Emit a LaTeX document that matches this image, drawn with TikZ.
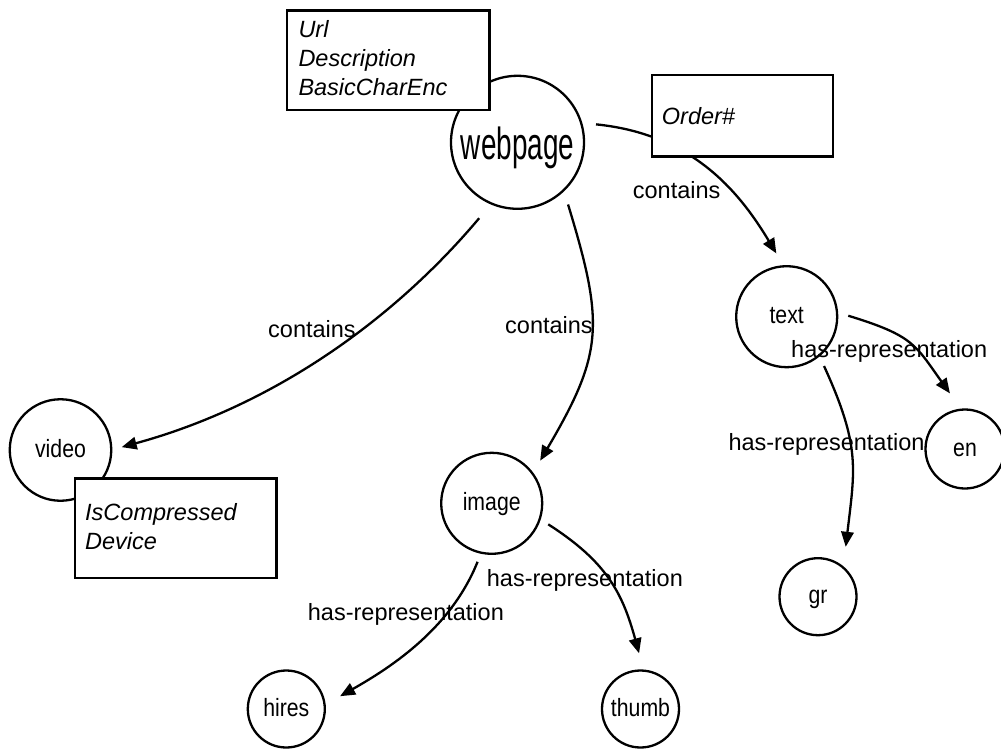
\documentclass[tikz,border=0pt]{standalone}
\usepackage{fontspec}
\setmainfont{Liberation Sans}
\usepackage{graphicx}
\usetikzlibrary{arrows.meta}

% concept names are set narrow so that they fit their circles
\newcommand{\narrowname}[1]{\scalebox{0.85}[1]{#1}}

\begin{document}
\begin{tikzpicture}[x=1pt,y=-1pt,
  concept/.style={circle,draw,line width=2.3pt,inner sep=0pt,outer sep=0pt,
    text height=17pt,text depth=3pt,font=\fontsize{25}{30}\selectfont},
  attrbox/.style={rectangle,draw,fill=white,line width=2.3pt,inner sep=0pt,
    outer sep=0pt,anchor=north west},
  attrtext/.style={anchor=base west,inner sep=0pt,
    font=\fontsize{23.5}{28}\selectfont\itshape},
  edgelabel/.style={anchor=base west,inner sep=0pt,
    font=\fontsize{23.5}{28}\selectfont},
  rel/.style={-{Triangle[length=15pt,width=12.5pt]},line width=2.3pt}
]
\useasboundingbox (0,0) rectangle (1001,749);

% concepts
\node[concept,minimum size=133pt,font=\fontsize{45}{50}\selectfont,
      text height=35pt,text depth=1pt]
  (webpage) at (517.5,142.3) {\scalebox{0.62}[1]{webpage}};
\node[concept,minimum size=101pt]   (text)  at (786.7,316.7) {\narrowname{text}};
\node[concept,minimum size=101.5pt] (video) at (60.5,450)    {\narrowname{video}};
\node[concept,minimum size=101pt]   (image) at (491.7,503.3) {\narrowname{image}};
\node[concept,minimum size=77pt]    (hires) at (286.3,709)   {\narrowname{hires}};
\node[concept,minimum size=77pt]    (thumb) at (640.5,709)   {\narrowname{thumb}};
\node[concept,minimum size=79pt]    (en)    at (965,449)     {\narrowname{en}};
\node[concept,minimum size=77pt]    (gr)    at (818,596.7)   {\narrowname{gr}};

% relations
\draw[rel,shorten <=19.2pt,shorten >=10.8pt]
  (webpage.247) .. controls +(-96.6,114.8) and +(164.1,-44.9) .. (video.0);
\draw[rel,shorten <=15pt,shorten >=15pt]
  (webpage.314) .. controls +(40.7,133.8) and +(71,-120.7) .. (image.36);
\draw[rel,shorten <=15pt,shorten >=15pt]
  (webpage.17) .. controls +(109.5,11) and +(-46.3,-77.1) .. (text.93);
\draw[rel,shorten <=11.8pt,shorten >=20pt]
  (text.5) .. controls +(76.6,23.4) and +(-46.5,-65.1) .. (en.95);
\draw[rel,shorten <=11.7pt,shorten >=21pt]
  (text.310) .. controls +(41.5,90.9) and +(11.7,-99.3) .. (gr.49);
\draw[rel,shorten <=9.8pt,shorten >=17.8pt]
  (image.258) .. controls +(-29.7,74.2) and +(69.6,-39.4) .. (hires.6);
\draw[rel,shorten <=10.1pt,shorten >=18pt]
  (image.342) .. controls +(67.4,43.1) and +(-21.2,-77.1) .. (thumb.85);

% attribute boxes
\node[attrbox,minimum width=202.3pt,minimum height=99.3pt] (webattrs)   at (287.2,10.5) {};
\node[attrbox,minimum width=181.5pt,minimum height=81.4pt] (textattrs)  at (651.8,75.2) {};
\node[attrbox,minimum width=201.3pt,minimum height=99.3pt] (videoattrs) at (75.2,478.5) {};

\node[attrtext] (url)     at (298.3,37.7)  {Url};
\node[attrtext] (descr)   at (298.3,66.7)  {Description};
\node[attrtext] (charenc) at (298.3,95.7)  {BasicCharEnc};
\node[attrtext] (order)   at (661.7,124.3) {Order\#};
\node[attrtext] (compr)   at (85,520.5)    {IsCompressed};
\node[attrtext] (device)  at (85,549.5)    {Device};

% relation labels
\node[edgelabel] (lvideo) at (268,337.5)   {contains};
\node[edgelabel] (limage) at (505,333.5)   {contains};
\node[edgelabel] (ltext)  at (632.7,198.3) {contains};
\node[edgelabel] (len)    at (791,357.7)   {has-representation};
\node[edgelabel] (lgr)    at (728.3,450)   {has-representation};
\node[edgelabel] (lhires) at (307.7,620)   {has-representation};
\node[edgelabel] (lthumb) at (486.7,586.5) {has-representation};
\end{tikzpicture}
\end{document}
